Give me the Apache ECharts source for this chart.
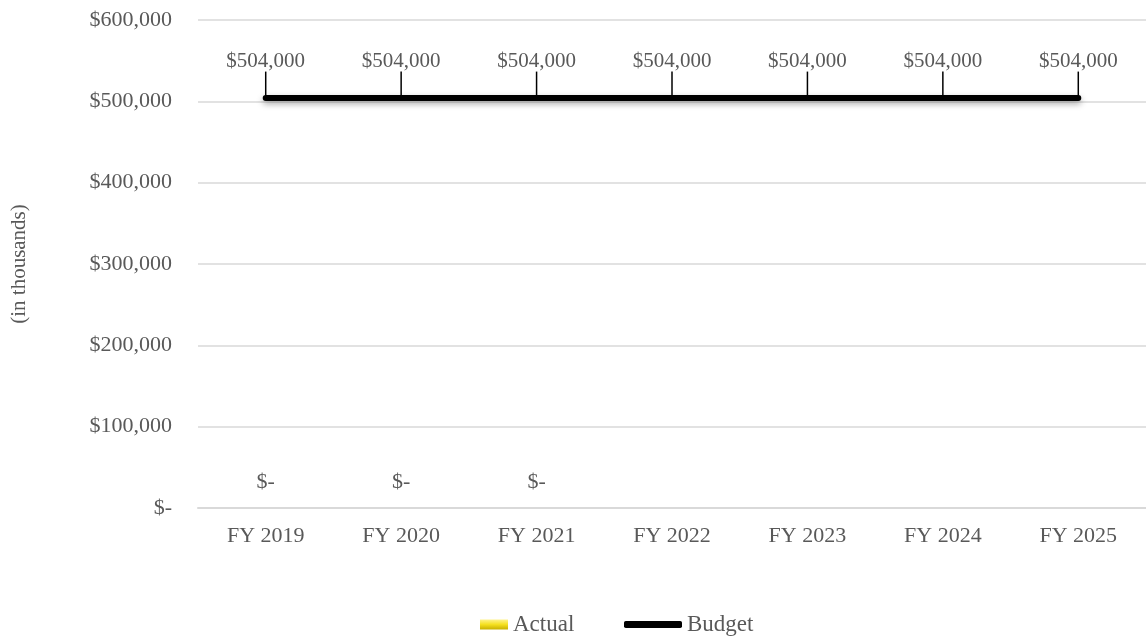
<!DOCTYPE html>
<html>
<head>
<meta charset="utf-8">
<script src="https://cdn.jsdelivr.net/npm/echarts@6/dist/echarts.min.js"></script>
<style>
html,body{margin:0;padding:0;background:#fff;}
#chart{width:1146px;height:640px;}
</style>
</head>
<body>
<div id="chart"></div>
<script>
const categories = ['FY 2019','FY 2020','FY 2021','FY 2022','FY 2023','FY 2024','FY 2025'];
const actualValues = [0, 0, 0, null, null, null, null];
const budgetValues = [504000, 504000, 504000, 504000, 504000, 504000, 504000];
const yTicks = {min: 0, max: 600000, interval: 100000};
const yAxisTitle = '(in thousands)';

const FONT = '"Liberation Serif", "Times New Roman", serif';
const TXT = '#595959';
function money(v){ return v === 0 ? '$-' : '$' + Number(v).toLocaleString('en-US'); }

const chart = echarts.init(document.getElementById('chart'));
chart.setOption({
  animation: false,
  textStyle: {fontFamily: FONT},
  grid: {left: 198, right: 0, top: 20, bottom: 132},
  xAxis: {
    type: 'category',
    data: categories,
    axisLine: {show: true, lineStyle: {color: '#d9d9d9', width: 2}},
    axisTick: {show: false},
    axisLabel: {color: TXT, fontSize: 22, fontFamily: FONT, margin: 17}
  },
  yAxis: {
    type: 'value',
    min: yTicks.min, max: yTicks.max, interval: yTicks.interval,
    name: yAxisTitle,
    nameLocation: 'middle',
    nameGap: 168,
    nameRotate: 90,
    nameTextStyle: {color: TXT, fontSize: 21, fontFamily: FONT},
    axisLine: {show: false},
    axisTick: {show: false},
    splitLine: {lineStyle: {color: '#d9d9d9', width: 1.5}},
    axisLabel: {color: TXT, fontSize: 22, fontFamily: FONT, margin: 26, formatter: money}
  },
  legend: [
    {
      data: ['Actual'], left: 480, top: 613, padding: 0,
      itemWidth: 28, itemHeight: 10,
      icon: 'rect',
      textStyle: {color: TXT, fontSize: 23, fontFamily: FONT}
    },
    {
      data: [{name: 'Budget', icon: 'roundRect'}], left: 624, top: 613, padding: 0,
      itemWidth: 58, itemHeight: 7,
      textStyle: {color: TXT, fontSize: 23, fontFamily: FONT},
      itemStyle: {color: '#000'}
    }
  ],
  series: [
    {
      name: 'Actual',
      type: 'bar',
      data: actualValues,
      barWidth: 60,
      itemStyle: {
        color: new echarts.graphic.LinearGradient(0, 0, 0, 1, [
          {offset: 0, color: '#fff38a'},
          {offset: 0.5, color: '#f5e020'},
          {offset: 1, color: '#c8b000'}
        ])
      },
      label: {
        show: true, position: 'top', distance: 15,
        color: TXT, fontSize: 22, fontFamily: FONT,
        formatter: p => money(p.value)
      }
    },
    {
      name: 'Budget',
      type: 'line',
      data: budgetValues,
      symbol: 'circle',
      symbolSize: 1,
      itemStyle: {color: '#000'},
      lineStyle: {
        color: '#000', width: 6, cap: 'round',
        shadowColor: 'rgba(0,0,0,0.35)', shadowBlur: 6, shadowOffsetY: 3
      },
      label: {
        show: true, position: 'top', distance: 4,
        color: TXT, fontSize: 21, fontFamily: FONT,
        formatter: p => money(p.value)
      },
      labelLayout: {dy: -22},
      labelLine: {show: true, lineStyle: {color: '#000', width: 1.5}}
    }
  ]
});
</script>
</body>
</html>
